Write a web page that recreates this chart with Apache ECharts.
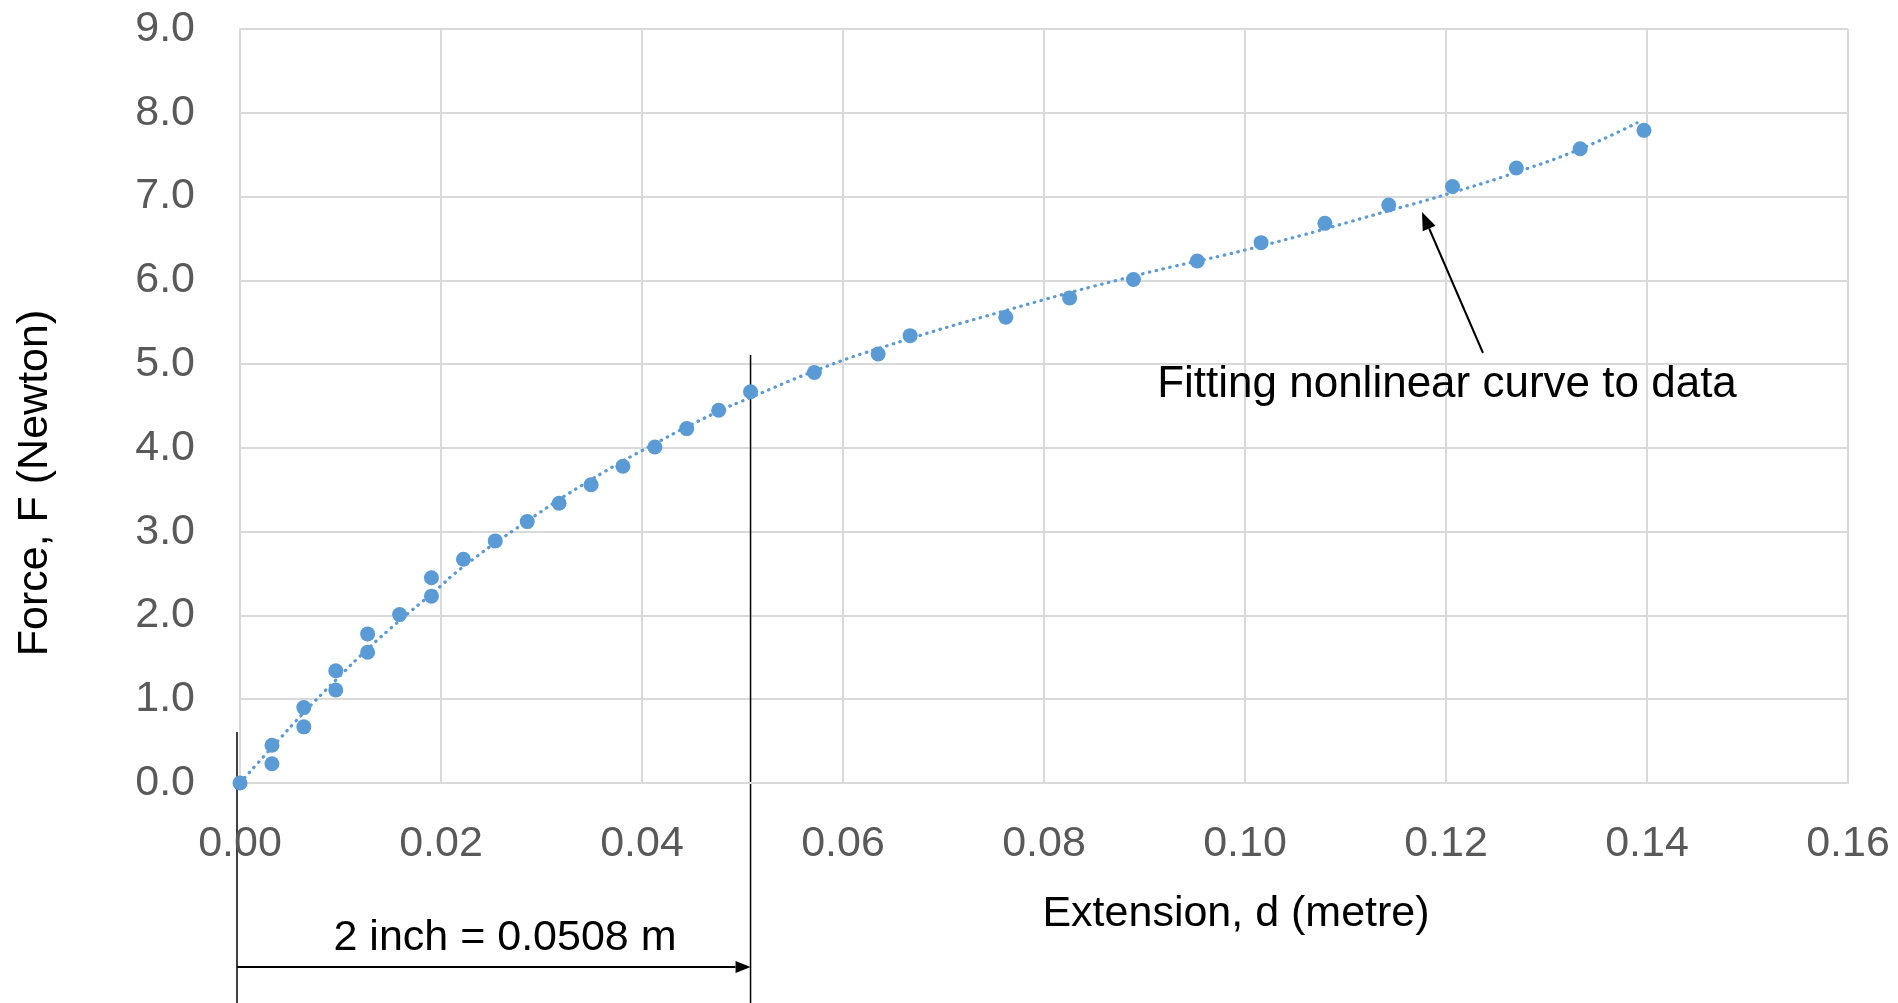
<!DOCTYPE html>
<html>
<head>
<meta charset="utf-8">
<script src="https://cdn.jsdelivr.net/npm/echarts@6/dist/echarts.min.js"></script>
<style>
  html, body { margin: 0; background: #fff; }
  #chart { width: 1898px; height: 1003px; }
</style>
</head>
<body>
<div id="chart"></div>
<script>
// measured points: extension d (m) and force F (N)
const extension = [0, 0.00318, 0.00318, 0.00635, 0.00635, 0.00953, 0.00953, 0.0127, 0.0127,
  0.01588, 0.01905, 0.01905, 0.02223, 0.0254, 0.02858, 0.03175, 0.03493, 0.0381, 0.04128,
  0.04445, 0.04763, 0.0508, 0.05715, 0.0635, 0.06668, 0.0762, 0.08255, 0.0889, 0.09525,
  0.1016, 0.10795, 0.1143, 0.12065, 0.127, 0.13335, 0.1397];
const force = [0, 0.45, 0.23, 0.90, 0.67, 1.34, 1.11, 1.78, 1.56,
  2.01, 2.45, 2.23, 2.67, 2.89, 3.12, 3.34, 3.56, 3.78, 4.01,
  4.23, 4.45, 4.67, 4.90, 5.12, 5.34, 5.56, 5.79, 6.01, 6.23,
  6.45, 6.68, 6.90, 7.12, 7.34, 7.57, 7.79];

// dotted fitted curve
const trendExt = [0, 0.00314, 0.00635, 0.0095, 0.0127, 0.0158, 0.019, 0.0222, 0.0285, 0.0348,
  0.0412, 0.0475, 0.0508, 0.057, 0.0635, 0.0762, 0.0889, 0.1016, 0.1143, 0.1207, 0.127, 0.1334, 0.139];
const trendForce = [0, 0.42, 0.84, 1.225, 1.60, 1.93, 2.25, 2.58, 3.12, 3.61,
  4.045, 4.43, 4.60, 4.91, 5.185, 5.64, 6.05, 6.41, 6.83, 7.05, 7.29, 7.57, 7.88];

const xTicks = [0, 0.02, 0.04, 0.06, 0.08, 0.10, 0.12, 0.14, 0.16];
const yTicks = [0, 1, 2, 3, 4, 5, 6, 7, 8, 9];

const markerBlue = "#5B9BD5";
const font = '"Liberation Sans", Arial, sans-serif';

var myChart = echarts.init(document.getElementById("chart"));

option = {
  animation: false,
  backgroundColor: "#fff",
  grid: { left: 240, right: 50, top: 29, bottom: 220 },
  xAxis: {
    type: "value",
    min: xTicks[0],
    max: xTicks[xTicks.length - 1],
    interval: 0.02,
    axisLine: { show: true, lineStyle: { color: "#D9D9D9", width: 2 } },
    axisTick: { show: false },
    splitLine: { show: true, lineStyle: { color: "#D9D9D9", width: 2 } },
    axisLabel: {
      margin: 40,
      color: "#595959",
      fontSize: 43,
      fontFamily: font,
      formatter: (v) => v.toFixed(2),
    },
  },
  yAxis: {
    type: "value",
    min: yTicks[0],
    max: yTicks[yTicks.length - 1],
    interval: 1,
    axisLine: { show: true, lineStyle: { color: "#D9D9D9", width: 2 } },
    axisTick: { show: false },
    splitLine: { show: true, lineStyle: { color: "#D9D9D9", width: 2 } },
    axisLabel: {
      margin: 45,
      color: "#595959",
      fontSize: 43,
      fontFamily: font,
      formatter: (v) => v.toFixed(1),
    },
  },
  series: [
    {
      type: "line",
      data: trendExt.map((d, i) => [d, trendForce[i]]),
      smooth: true,
      showSymbol: false,
      lineStyle: { color: markerBlue, width: 3.2, type: [0.5, 6.5], cap: "round" },
      z: 1,
    },
    {
      type: "scatter",
      data: extension.map((d, i) => [d, force[i]]),
      symbolSize: 15,
      itemStyle: { color: markerBlue, opacity: 1 },
      z: 2,
    },
  ],
};
myChart.setOption(option);

// annotations: axis titles, callout text, dimension lines
function arrow(x1, y1, x2, y2, len, half) {
  const a = Math.atan2(y2 - y1, x2 - x1);
  const bx = x2 - len * Math.cos(a), by = y2 - len * Math.sin(a);
  const px = -Math.sin(a) * half, py = Math.cos(a) * half;
  return [
    { type: "line", shape: { x1: x1, y1: y1, x2: bx, y2: by }, style: { stroke: "#000", lineWidth: 2 } },
    { type: "polygon", shape: { points: [[x2, y2], [bx + px, by + py], [bx - px, by - py]] }, style: { fill: "#000" } },
  ];
}

const px0 = myChart.convertToPixel({ xAxisIndex: 0 }, 0) - 3;
const px508 = myChart.convertToPixel({ xAxisIndex: 0 }, 0.0508);
const pyTop1 = myChart.convertToPixel({ yAxisIndex: 0 }, 0.61);
const pyTop2 = myChart.convertToPixel({ yAxisIndex: 0 }, 5.11);
const textStyle = (t, x, y, size) => ({
  type: "text",
  x: x, y: y,
  style: { text: t, font: size + "px " + font, fill: "#000", align: "center", verticalAlign: "middle" },
});

const graphics = [
  textStyle("Extension, d (metre)", 1236, 914, 43),
  Object.assign(textStyle("Force, F (Newton)", 35, 483, 43), { rotation: Math.PI / 2 }),
  textStyle("Fitting nonlinear curve to data", 1447, 385, 44),
  textStyle("2 inch = 0.0508 m", 505, 938, 43),
  { type: "line", shape: { x1: px0, y1: pyTop1, x2: px0, y2: 1003 }, style: { stroke: "#000", lineWidth: 1.5 } },
  { type: "line", shape: { x1: px508, y1: pyTop2, x2: px508, y2: 1003 }, style: { stroke: "#000", lineWidth: 1.5 } },
]
  .concat(arrow(px0, 967, px508, 967, 15, 6))
  .concat(arrow(1483, 353, 1422, 212, 18, 7));

myChart.setOption({ graphic: graphics });
</script>
</body>
</html>
